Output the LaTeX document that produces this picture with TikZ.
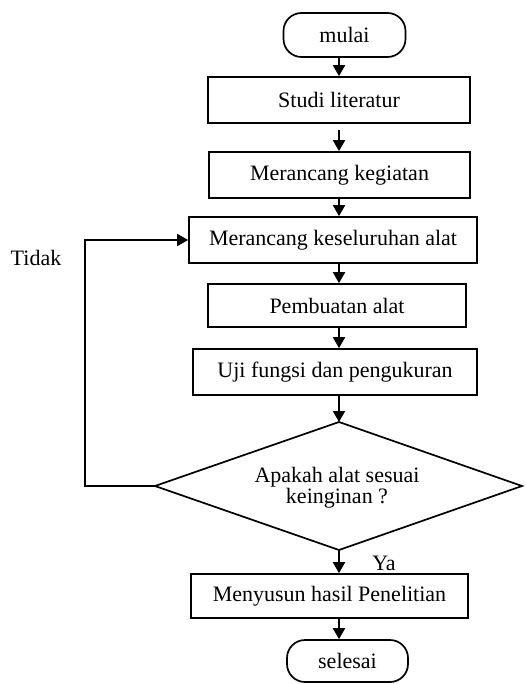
\documentclass[tikz,border=0pt]{standalone}
\usepackage{fontspec}
\setmainfont{Liberation Serif}
\usetikzlibrary{arrows.meta}
\begin{document}
\begin{tikzpicture}[x=1pt,y=-1pt,
  every node/.style={font=\fontsize{22}{21}\selectfont},
  box/.style={draw,line width=1.7pt,inner sep=0pt,minimum height=46pt},
  term/.style={draw,line width=1.7pt,rounded corners=18pt,inner sep=0pt,minimum height=44pt},
  arr/.style={line width=2pt,-{Triangle[length=11pt,width=12pt]}},
  fb/.style={line width=1.7pt,-{Triangle[length=11pt,width=12pt]}},
  ln/.style={line width=1.7pt}]
\useasboundingbox (0,0) rectangle (526,684);
\coordinate (ax) at (339,0);
\node[term,minimum width=122pt] (mulai) at (344.5,35) {mulai};
\node[box,minimum width=262pt] (studi) at (339,100) {Studi literatur};
\node[box,minimum width=261pt] (keg) at (339.5,175) {Merancang kegiatan};
\node[box,minimum width=288pt] (kes) at (333,240) {Merancang keseluruhan alat};
\node[box,minimum width=258pt,minimum height=43pt] (buat) at (337,305.5) {Pembuatan alat};
\node[box,minimum width=284pt] (uji) at (335,372) {Uji fungsi dan pengukuran};
\coordinate (dt) at (339,422);
\coordinate (db) at (339,550);
\coordinate (dl) at (155,486);
\coordinate (dr) at (522,486);
\draw[ln] (dt) -- (dr) -- (db) -- (dl) -- cycle;
\node[align=center,inner sep=0pt] (dtext) at (337,488) {Apakah alat sesuai\\keinginan ?};
\node[box,minimum width=277pt,minimum height=44pt] (hasil) at (329.5,596) {Menyusun hasil Penelitian};
\node[term,minimum width=121pt,minimum height=42pt] (selesai) at (347.5,661) {selesai};
\node (tidak) at (36,258) {Tidak};
\node (ya) at (384,563) {Ya};
\draw[arr] (mulai.south -| ax) -- (studi.north -| ax);
\draw[arr] ([yshift=-6pt]studi.south -| ax) -- (keg.north -| ax);
\draw[arr] (keg.south -| ax) -- (kes.north -| ax);
\draw[arr] (kes.south -| ax) -- (buat.north -| ax);
\draw[arr] (buat.south -| ax) -- (uji.north -| ax);
\draw[arr] (uji.south -| ax) -- (dt);
\draw[arr] (db) -- (hasil.north -| ax);
\draw[arr] (hasil.south -| ax) -- (selesai.north -| ax);
\draw[fb] (dl) -- ++(-70,0) |- (kes.west);
\end{tikzpicture}
\end{document}
